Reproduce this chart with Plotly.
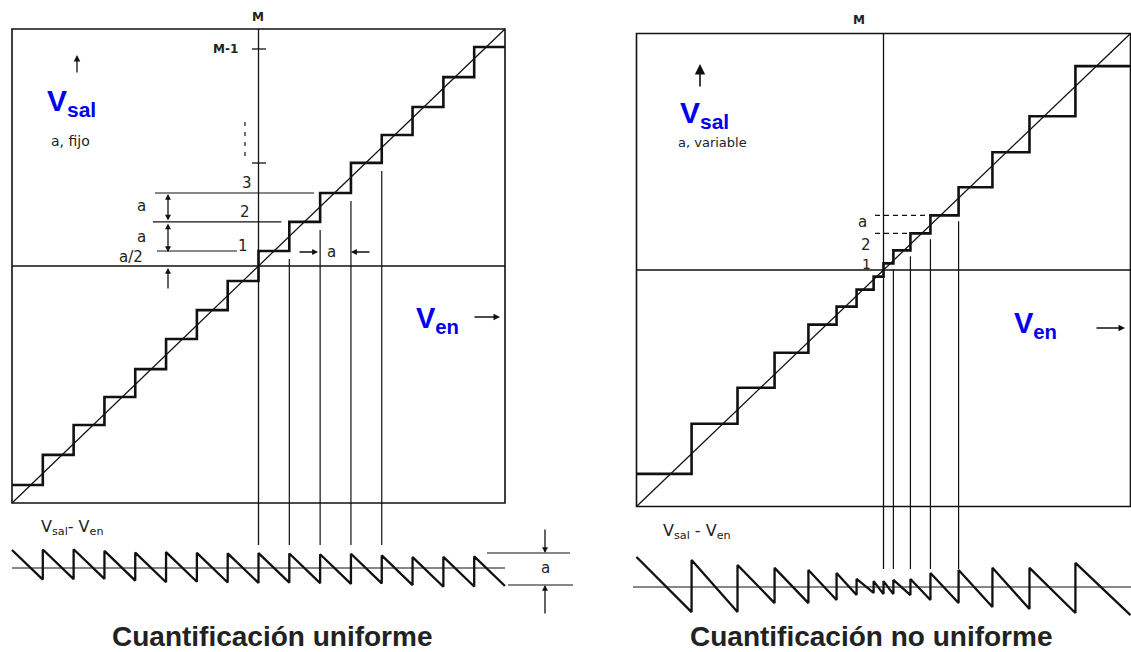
import plotly.graph_objects as go

W, H = 1131, 652

# ---------------- data ----------------
# Uniform quantizer (normalized input / output, box = [-1, 1])
uni_edges = [-1.0, -0.875, -0.75, -0.625, -0.5, -0.375, -0.25, -0.125, 0.0,
             0.125, 0.25, 0.375, 0.5, 0.625, 0.75, 0.875, 1.0]
uni_levels = [-0.924, -0.797, -0.671, -0.553, -0.435, -0.308, -0.186, -0.063,
              0.063, 0.186, 0.308, 0.435, 0.553, 0.671, 0.797, 0.924]

# Non-uniform quantizer
nu_edges = [-1.0, -0.777, -0.591, -0.441, -0.304, -0.190, -0.109, -0.040, 0.0,
            0.040, 0.109, 0.190, 0.304, 0.441, 0.591, 0.777, 1.0]
nu_levels = [-0.862, -0.650, -0.498, -0.350, -0.231, -0.155, -0.083, -0.028,
             0.028, 0.083, 0.155, 0.231, 0.350, 0.498, 0.650, 0.862]

# Non-uniform error (Vsal - Ven) as drawn: value at start, just before / after each interior riser, at end
nu_err_start = 0.127
nu_err_before = [-0.106, -0.106, -0.068, -0.068, -0.055, -0.034, -0.025, -0.030,
                 -0.030, -0.034, -0.055, -0.068, -0.085, -0.093, -0.110]
nu_err_after = [0.114, 0.093, 0.081, 0.072, 0.059, 0.034, 0.025, 0.025,
                0.030, 0.034, 0.059, 0.072, 0.081, 0.081, 0.102]
nu_err_end = -0.119

# ---------------- layout geometry (pixels) ----------------
SPLIT = 565
X0L, SXL, Y0L, SYL, ZL = 258.5, 246.5, 266.0, 237.0, 568.0
X0R, SXR, Y0R, SYR, ZR = 883.5, 247.0, 270.0, 236.5, 587.0

INK = "#111111"
BLUE = "#0000ee"
TXT = "#222222"


def stair(edges, levels):
    xs, ys = [], []
    for i, lv in enumerate(levels):
        xs += [edges[i], edges[i + 1]]
        ys += [lv, lv]
    return xs, ys


def uniform_error(edges, levels):
    xs, ys = [edges[0]], [levels[0] - edges[0]]
    for i in range(1, len(levels)):
        e = edges[i]
        xs += [e, e]
        ys += [levels[i - 1] - e, levels[i] - e]
    xs.append(edges[-1])
    ys.append(levels[-1] - edges[-1])
    return xs, ys


def drawn_error(edges, start, before, after, end):
    xs, ys = [edges[0]], [start]
    for e, b, a in zip(edges[1:-1], before, after):
        xs += [e, e]
        ys += [b, a]
    xs.append(edges[-1])
    ys.append(end)
    return xs, ys


fig = go.Figure()

def line(xs, ys, xa, ya, w, dash=None):
    fig.add_trace(go.Scatter(x=xs, y=ys, mode="lines", xaxis=xa, yaxis=ya,
                             line=dict(color=INK, width=w, dash=dash),
                             hoverinfo="skip", showlegend=False))

# ----- left panel -----
sx, sy = stair(uni_edges, uni_levels)
line(sx, sy, "x", "y", 2.6)
line([-1, 1], [-1, 1], "x", "y", 1.3)
ex, ey = uniform_error(uni_edges, uni_levels)
line(ex, ey, "x", "y2", 2.3)

gapL = 8 / SYL
bottomL = (Y0L - 545) / SYL
for i in range(9, 13):
    line([uni_edges[i], uni_edges[i]], [uni_levels[i - 1] - gapL, bottomL], "x", "y", 1.2)

# ----- right panel -----
sx, sy = stair(nu_edges, nu_levels)
line(sx, sy, "x2", "y3", 2.6)
line([-1, 1], [-1, 1], "x2", "y3", 1.3)
ex, ey = drawn_error(nu_edges, nu_err_start, nu_err_before, nu_err_after, nu_err_end)
line(ex, ey, "x2", "y4", 2.3)

gapR = 6 / SYR
bottomR = (Y0R - 569) / SYR
for i in range(9, 13):
    line([nu_edges[i], nu_edges[i]], [nu_levels[i - 1] - gapR, bottomR], "x2", "y3", 1.2)

# ---------------- shapes ----------------
shapes = []

def shp(x0, y0, x1, y1, xref, yref, w=1.3, dash=None, kind="line"):
    shapes.append(dict(type=kind, x0=x0, y0=y0, x1=x1, y1=y1, xref=xref, yref=yref,
                       line=dict(color=INK, width=w, dash=dash), layer="below"))

def pl(px0, py0, px1, py1, w=1.2, dash=None):
    shp(px0 / W, 1 - py0 / H, px1 / W, 1 - py1 / H, "paper", "paper", w, dash)

def pxL(px):
    return (px - X0L) / SXL

def pxR(px):
    return (px - X0R) / SXR

# boxes and axes
shp(-1, -1, 1, 1, "x", "y", 1.6, kind="rect")
shp(-1, 0, 1, 0, "x", "y", 1.3)
shp(0, 1, 0, bottomL, "x", "y", 1.3)
shp(-1, 0, 1, 0, "x", "y2", 1.2)

shp(-1, -1, 1, 1, "x2", "y3", 1.6, kind="rect")
shp(-1, 0, 1, 0, "x2", "y3", 1.3)
shp(0, 1, 0, bottomR, "x2", "y3", 1.3)
shp(pxR(633), 0, pxR(1131), 0, "x2", "y4", 1.2)

# left dimension lines at levels 1, 2, 3
shp(pxL(157), uni_levels[8], pxL(237), uni_levels[8], "x", "y", 1.1)
shp(pxL(153), uni_levels[9], uni_edges[9] - 8 / SXL, uni_levels[9], "x", "y", 1.1)
shp(pxL(155), uni_levels[10], uni_edges[10] - 6 / SXL, uni_levels[10], "x", "y", 1.1)
# ticks on vertical axis
pl(252, 49, 266, 49, 1.3)
pl(252, 163, 266, 163, 1.3)
pl(245, 122, 245, 156, 1.2, "4px,6px")
# bracket lines near left error waveform
pl(487, 553, 570, 553, 1.1)
pl(508, 585, 573, 585, 1.1)

# right dashed level lines
shp(pxR(875), nu_levels[11], nu_edges[11], nu_levels[11], "x2", "y3", 1.3, "5px,4px")
shp(pxR(875), nu_levels[10], nu_edges[10], nu_levels[10], "x2", "y3", 1.3, "5px,4px")

# ---------------- annotations ----------------
anns = []

def txt(px, py, s, size=14, color=TXT, family="DejaVu Sans", xanchor="center"):
    anns.append(dict(x=px / W, y=1 - py / H, xref="paper", yref="paper", text=s,
                     showarrow=False, xanchor=xanchor, yanchor="middle",
                     font=dict(size=size, color=color, family=family)))

def arrow(px, py, ax, ay, both=False, size=1.0, width=1.3, head=2):
    anns.append(dict(x=px / W, y=1 - py / H, xref="paper", yref="paper", text="",
                     showarrow=True, ax=ax, ay=ay, arrowhead=head, arrowsize=size,
                     arrowwidth=width, arrowcolor=INK,
                     arrowside="end+start" if both else "end", startarrowhead=head,
                     startarrowsize=size))

# left
txt(258, 17, "<b>M</b>", 12)
txt(225, 49, "<b>M-1</b>", 12)
txt(247, 183, "3", 15)
txt(245, 212, "2", 15)
txt(243, 246, "1", 15)
txt(141, 206, "a", 15)
txt(141, 237, "a", 15)
txt(131, 257, "a/2", 15)
txt(331, 252, "a", 15)
txt(70, 141, "a, fijo", 14)
txt(71, 103, "<b>V<sub>sal</sub></b>", 30, BLUE, "Liberation Sans")
txt(437, 320, "<b>V<sub>en</sub></b>", 29, BLUE, "Liberation Sans")
txt(72, 527, "V<sub>sal</sub>- V<sub>en</sub>", 16)
txt(545, 568, "a", 15)
txt(272, 636, "<b>Cuantificación uniforme</b>", 28, TXT, "Liberation Sans")

arrow(77, 55, 0, 19)
arrow(500, 317, -27, 0)
arrow(168, 194, 0, 28, both=True, size=0.9)
arrow(168, 252, 0, -30, both=True, size=0.9)
arrow(168, 268, 0, 22, size=0.9)
arrow(318, 252, -20, 0, size=0.9)
arrow(351, 252, 20, 0, size=0.9)
arrow(545, 553, 0, -25, size=0.9)
arrow(545, 585, 0, 30, size=0.9)

# right
txt(859, 20, "<b>M</b>", 12)
txt(862, 222, "a", 15)
txt(866, 245, "2", 15)
txt(866, 264, "1", 14)
txt(712, 143, "a, variable", 13)
txt(704, 114, "<b>V<sub>sal</sub></b>", 30, BLUE, "Liberation Sans")
txt(1035, 325, "<b>V<sub>en</sub></b>", 29, BLUE, "Liberation Sans")
txt(697, 531, "V<sub>sal</sub> - V<sub>en</sub>", 16)
txt(871, 636, "<b>Cuantificación no uniforme</b>", 28, TXT, "Liberation Sans")

arrow(700, 64, 0, 24, size=1.3, width=1.6)
arrow(1125, 328, -30, 0)

# ---------------- axes ----------------
def rng(p0, p1, origin, scale):
    return [(p0 - origin) / scale, (p1 - origin) / scale]

hidden = dict(visible=False, showgrid=False, zeroline=False, fixedrange=True)

fig.update_layout(
    width=W, height=H, margin=dict(l=0, r=0, t=0, b=0),
    paper_bgcolor="white", plot_bgcolor="white", showlegend=False,
    hovermode=False,
    font=dict(family="DejaVu Sans", color=TXT),
    xaxis=dict(domain=[0, SPLIT / W], range=rng(0, SPLIT, X0L, SXL), **hidden),
    yaxis=dict(domain=[0, 1], range=[(Y0L - H) / SYL, Y0L / SYL], anchor="x", **hidden),
    yaxis2=dict(domain=[0, 1], range=[(ZL - H) / SYL, ZL / SYL], anchor="x",
                overlaying="y", **hidden),
    xaxis2=dict(domain=[SPLIT / W, 1], range=rng(SPLIT, W, X0R, SXR), anchor="y3", **hidden),
    yaxis3=dict(domain=[0, 1], range=[(Y0R - H) / SYR, Y0R / SYR], anchor="x2", **hidden),
    yaxis4=dict(domain=[0, 1], range=[(ZR - H) / SYR, ZR / SYR], anchor="x2",
                overlaying="y3", **hidden),
    shapes=shapes,
    annotations=anns,
)

fig.write_html("out.html", config={"displayModeBar": False},
               post_script="document.body.style.margin='0';document.body.style.overflow='hidden';")
